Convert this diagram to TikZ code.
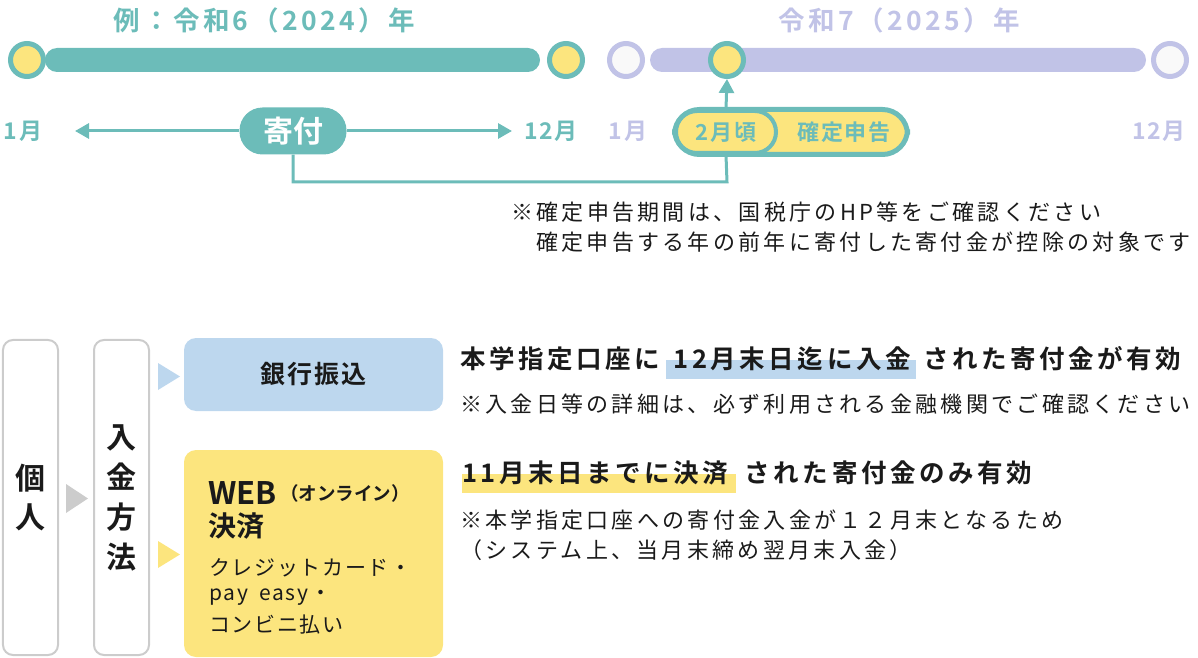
\documentclass[tikz,border=0pt]{standalone}
\usepackage{fontspec}
\setmainfont{Noto Sans CJK JP}
\newfontfamily\jpr{Noto Sans CJK JP}[LetterSpace=15]
\newfontfamily\jprs{Noto Sans CJK JP}[LetterSpace=8]
\newfontfamily\jpb{Noto Sans CJK JP Bold}[LetterSpace=13]
\newfontfamily\jpbl{Noto Sans CJK JP Bold}[LetterSpace=14]
\newfontfamily\jpbs{Noto Sans CJK JP Bold}[LetterSpace=7]
\newfontfamily\jpbn{Noto Sans CJK JP Bold}
\usetikzlibrary{arrows.meta,backgrounds,calc}
\definecolor{tl}{HTML}{6CBCB9}
\definecolor{lav}{HTML}{C1C3E7}
\definecolor{yel}{HTML}{FCE57E}
\definecolor{blu}{HTML}{BDD7EE}
\definecolor{gry}{HTML}{CCCCCC}
\definecolor{wht}{HTML}{F9F9F9}
\definecolor{ink}{HTML}{1A1A1A}
\tikzset{
  title/.style={font=\jpb\fontsize{26.5bp}{30bp}\selectfont, inner sep=0},
  mon/.style={font=\jpbs\fontsize{23bp}{27bp}\selectfont, inner sep=0},
  pilltext/.style={font=\jpbs\fontsize{22bp}{26bp}\selectfont, inner sep=0},
  note/.style={font=\jpr\fontsize{22bp}{26bp}\selectfont, inner sep=0, anchor=west, text=ink},
  boxnote/.style={font=\jprs\fontsize{21bp}{25bp}\selectfont, inner sep=0, anchor=west, text=ink},
  lead/.style={font=\jpbl\fontsize{25.5bp}{29bp}\selectfont, inner sep=0, anchor=west, text=ink},
  dot/.style={circle, line width=5bp, minimum size=33bp, inner sep=0},
  conn/.style={draw=tl, line width=3bp},
  arr/.style={conn, -{Triangle[length=14bp,width=15bp]}},
  box/.style={draw=gry, line width=2bp, rounded corners=10bp, fill=white, minimum width=55bp, minimum height=315bp, inner sep=0, align=center, text=ink},
  panel/.style={rounded corners=12bp, minimum width=259bp, inner sep=0},
}
\begin{document}
\begin{tikzpicture}[x=1bp,y=-1bp]
\useasboundingbox (0,0) rectangle (1198,658);
% titles
\node[title, text=tl] (t1) at (264,20) {例：令和6（2024）年};
\node[title, text=lav] (t2) at (899,20) {令和7（2025）年};
% bars
\fill[tl, rounded corners=12bp] (45,48) rectangle (540,72);
\fill[lav, rounded corners=12bp] (650,48) rectangle (1146,72);
\node[dot, draw=tl, fill=yel] (a1) at (27,60) {};
\node[dot, draw=tl, fill=yel] (a2) at (566,60) {};
\node[dot, draw=lav, fill=wht] (b1) at (626,60) {};
\node[dot, draw=tl, fill=yel] (b2) at (727,60) {};
\node[dot, draw=lav, fill=wht] (b3) at (1170,60) {};
% months
\node[mon, text=tl] (m1) at (23,131) {1月};
\node[mon, text=tl] (m12) at (551,131) {12月};
\node[mon, text=lav] (n1) at (628,131) {1月};
\node[mon, text=lav] (n12) at (1159,131) {12月};
% kifu
\node[fill=tl, text=white, rounded corners=23bp, minimum width=107bp, minimum height=47bp, inner sep=0, font=\jpbn\fontsize{30bp}{34bp}\selectfont] (kifu) at (293,131) {寄付};
\coordinate (l) at (75,131);
\coordinate (r) at (512,131);
\draw[arr] (kifu) -- (l);
\draw[arr] (kifu) -- (r);
% pill
\coordinate (bend) at (727,182);
\node[draw=tl, line width=5bp, fill=yel, rounded corners=25bp, minimum width=233bp, minimum height=45bp, inner sep=0] (pill) at (791,132) {};
\node[draw=tl, line width=4bp, fill=yel, rounded corners=21bp, minimum width=100bp, minimum height=42bp, inner sep=0, text=tl, pilltext] (feb) at (726,132) {2月頃};
\node[pilltext, text=tl] (kakutei) at (844,132) {確定申告};
\draw[conn] (kifu.south) |- (bend) -- (feb.south);
\draw[arr] (feb.north) -- (b2.south);
% notes
\node[note] (nt1) at (511,212) {※確定申告期間は、国税庁のHP等をご確認ください};
\node[note] (nt2) at (536,242) {確定申告する年の前年に寄付した寄付金が控除の対象です};
% bottom boxes
\node[box, font=\jpbn\fontsize{30bp}{39bp}\selectfont] (kojin) at (30.5,497.5) {個\\人};
\node[box, font=\jpbn\fontsize{30bp}{40bp}\selectfont] (hoho) at (121.5,497.5) {入\\金\\方\\法};
\fill[gry] (66,484) -- (88,498.5) -- (66,513) -- cycle;
\fill[blu] (158,363) -- (180,376.5) -- (158,390) -- cycle;
\fill[yel] (158,541) -- (180,554.5) -- (158,568) -- cycle;
\node[panel, fill=blu, minimum height=73bp, text=ink, font=\jpbs\fontsize{25bp}{29bp}\selectfont] (bank) at (313.5,374.5) {銀行振込};
\node[panel, fill=yel, minimum height=207bp] (web) at (313.5,553.5) {};
\node[anchor=west, inner sep=0, text=ink, font=\jpbn\fontsize{31bp}{34bp}\selectfont] (w1) at (208,493) {WEB};
\node[anchor=west, inner sep=0, text=ink, font=\jpbn\fontsize{18.5bp}{22bp}\selectfont] (w1b) at ([xshift=3bp]w1.east) {（オンライン）};
\node[anchor=west, inner sep=0, text=ink, font=\jpbn\fontsize{28bp}{32bp}\selectfont] (w2) at (208,526) {決済};
\node[boxnote] (w3) at (209,568) {クレジットカード・};
\node[boxnote] (w4) at (209,597) {pay\hspace{5bp} easy・};
\node[boxnote] (w5) at (209,625) {コンビニ払い};
% right texts
\node[lead] (h1a) at (460,359) {本学指定口座に};
\node[lead] (h1b) at ([xshift=13bp]h1a.east) {12月末日迄に入金};
\node[lead] (h1c) at ([xshift=12bp]h1b.east) {された寄付金が有効};
\node[note] (s1) at (460,404) {※入金日等の詳細は、必ず利用される金融機関でご確認ください};
\node[lead] (h2a) at (462,473) {11月末日までに決済};
\node[lead] (h2b) at ([xshift=16bp]h2a.east) {された寄付金のみ有効};
\node[note] (s2) at (460,520) {※本学指定口座への寄付金入金が１２月末となるため};
\node[note] (s3) at (460,550) {（システム上、当月末締め翌月末入金）};
\begin{scope}[on background layer]
\fill[blu] ([xshift=-7bp,yshift=-1bp]h1b.west) rectangle ([xshift=5bp,yshift=-20bp]h1b.east);
\fill[yel] ([xshift=0bp,yshift=-1bp]h2a.west) rectangle ([xshift=7bp,yshift=-20bp]h2a.east);
\end{scope}
\end{tikzpicture}
\end{document}
